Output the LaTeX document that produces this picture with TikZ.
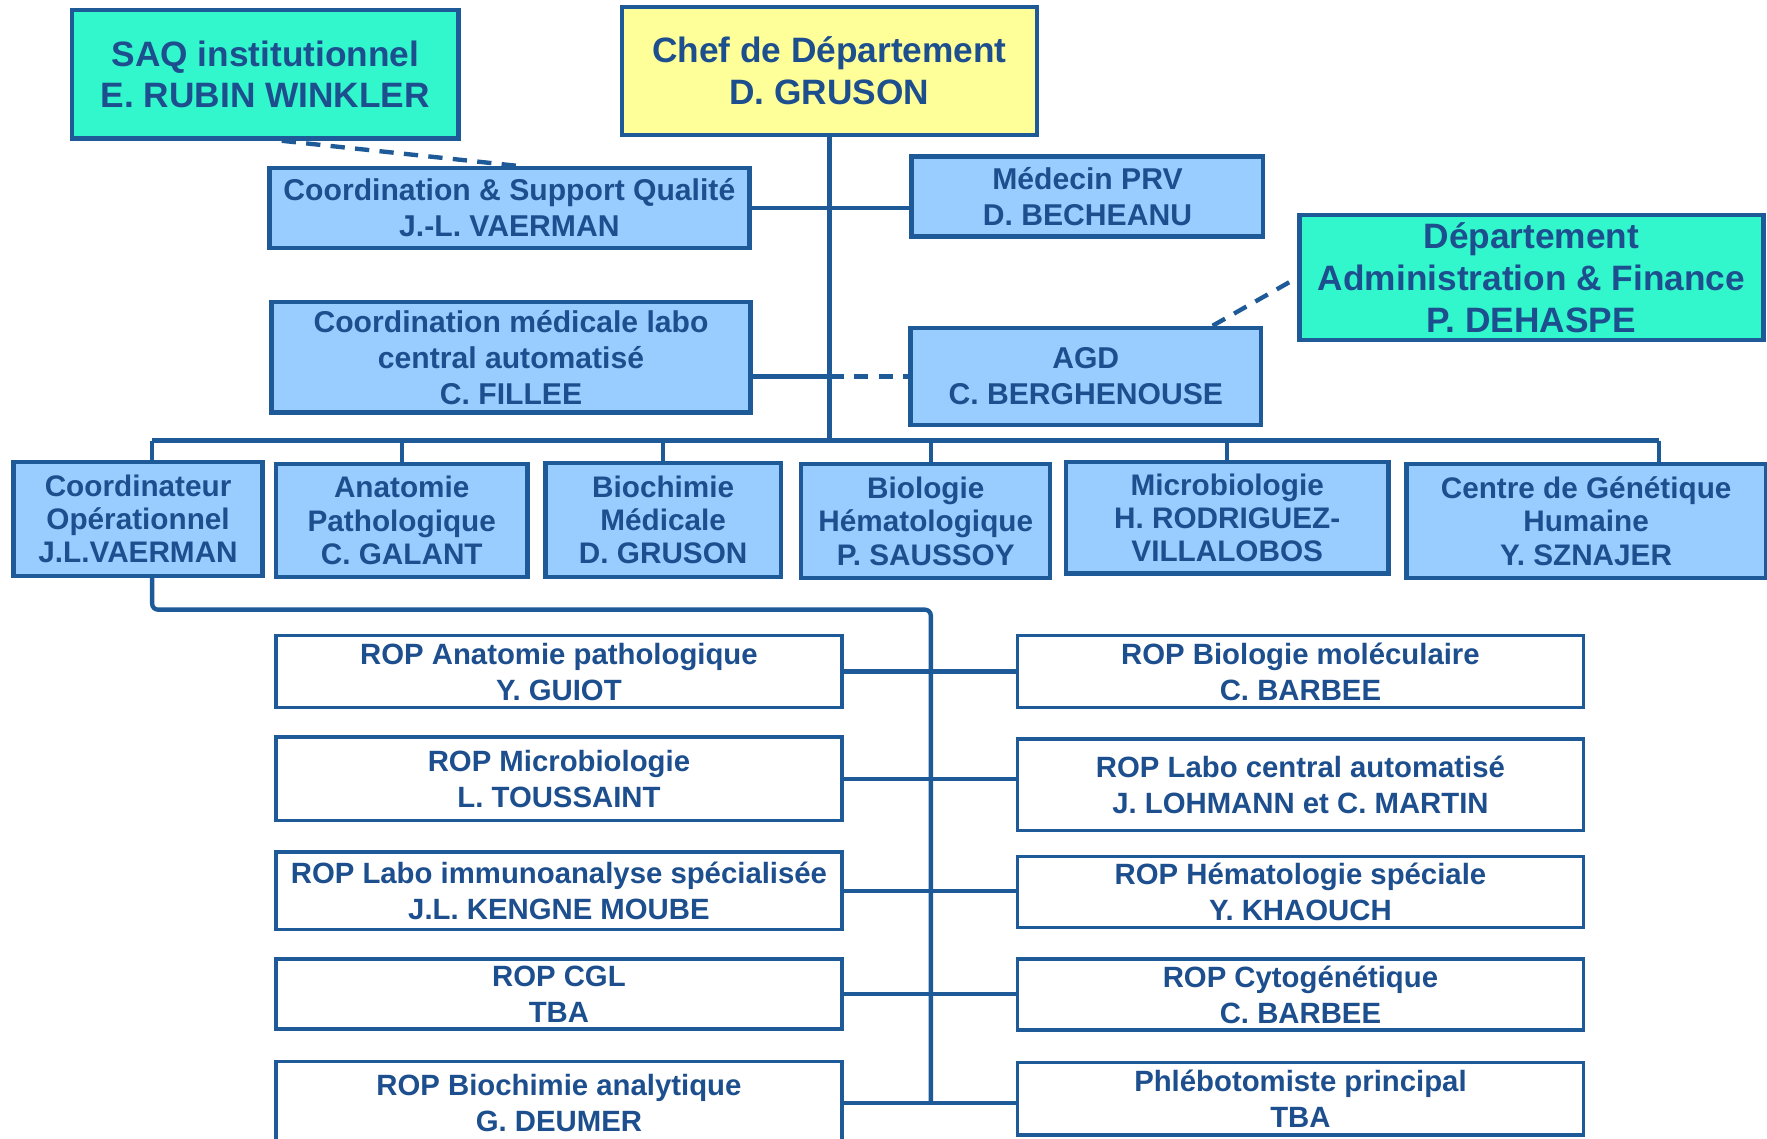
\documentclass[tikz,border=0pt]{standalone}
\usepackage{fontspec}
\setmainfont{Liberation Sans}
\usetikzlibrary{calc}

\definecolor{lineblue}{HTML}{1E5A98}
\definecolor{txtblue}{HTML}{1D4F8E}
\definecolor{boxblue}{HTML}{99CCFF}
\definecolor{boxcyan}{HTML}{33F7CC}
\definecolor{boxyellow}{HTML}{FFFF99}

% one box: name, x1, y1, x2, y2, style, text
\newcommand\orgbox[7]{%
  \node[#6, minimum width={(#4-#2)*0.01cm}, minimum height={(#5-#3)*0.01cm}]
    (#1) at ({(#2+#4)/2},{(#3+#5)/2}) {#7};}

\tikzset{
  base/.style={draw=lineblue, line width=1.1pt, inner sep=0pt, align=center,
    text=txtblue},
  headbox/.style={base, font=\fontsize{8.9}{10.5}\selectfont\bfseries},
  midbox/.style={base, fill=boxblue, font=\fontsize{7.6}{9.1}\selectfont\bfseries},
  unitbox/.style={base, fill=boxblue, font=\fontsize{7.5}{8.4}\selectfont\bfseries},
  ropbox/.style={base, fill=white, line width=0.9pt,
    font=\fontsize{7.4}{9.1}\selectfont\bfseries},
  link/.style={draw=lineblue, line width=1.1pt},
  dlink/.style={link, dash pattern=on 3.6pt off 2.6pt},
}

\begin{document}
\begin{tikzpicture}[x=0.01cm, y=-0.01cm]
\useasboundingbox (0,0) rectangle (1568,1010);
\clip (0,0) rectangle (1568,1010);
\fill[white] (0,0) rectangle (1568,1010);

% top level
\orgbox{chef}{552}{6}{920}{120}{headbox, fill=boxyellow}{Chef de Département\\D. GRUSON}
\orgbox{saq}{64}{9}{407}{123}{headbox, fill=boxcyan}{SAQ institutionnel\\E. RUBIN WINKLER}
\orgbox{dept}{1153}{191}{1565}{302}{headbox, fill=boxcyan}{Département\\Administration \& Finance\\P. DEHASPE}

% staff functions
\orgbox{coordsq}{239}{149}{665}{220}{midbox}{Coordination \& Support Qualité\\J.-L. VAERMAN}
\orgbox{medecin}{809}{139}{1121}{210}{midbox}{Médecin PRV\\D. BECHEANU}
\orgbox{cml}{241}{268}{666}{366}{midbox}{Coordination médicale labo\\central automatisé\\C. FILLEE}
\orgbox{agd}{808}{291}{1119}{377}{midbox}{AGD\\C. BERGHENOUSE}

% units
\orgbox{coordop}{12}{410}{233}{511}{unitbox}{Coordinateur\\Opérationnel\\J.L.VAERMAN}
\orgbox{anat}{245}{412}{468}{512}{unitbox}{Anatomie\\Pathologique\\C. GALANT}
\orgbox{bioch}{484}{411}{693}{512}{unitbox}{Biochimie\\Médicale\\D. GRUSON}
\orgbox{bioh}{711}{412}{932}{513}{unitbox}{Biologie\\Hématologique\\P. SAUSSOY}
\orgbox{micro}{946}{410}{1232}{509}{unitbox}{Microbiologie\\H. RODRIGUEZ-\\VILLALOBOS}
\orgbox{centre}{1248}{412}{1567}{513}{unitbox}{Centre de Génétique\\Humaine\\Y. SZNAJER}

% operational managers, left column
\orgbox{l1}{245}{564}{747}{628}{ropbox}{ROP Anatomie pathologique\\Y. GUIOT}
\orgbox{l2}{245}{654}{747}{728}{ropbox}{ROP Microbiologie\\L. TOUSSAINT}
\orgbox{l3}{245}{756}{747}{825}{ropbox}{ROP Labo immunoanalyse spécialisée\\J.L. KENGNE MOUBE}
\orgbox{l4}{245}{851}{747}{913}{ropbox}{ROP CGL\\TBA}
\orgbox{l5}{245}{942}{747}{1016}{ropbox}{ROP Biochimie analytique\\G. DEUMER}

% operational managers, right column
\orgbox{r1}{903}{564}{1405}{628}{ropbox}{ROP Biologie moléculaire\\C. BARBEE}
\orgbox{r2}{903}{656}{1405}{737}{ropbox}{ROP Labo central automatisé\\J. LOHMANN et C. MARTIN}
\orgbox{r3}{903}{760}{1405}{823}{ropbox}{ROP Hématologie spéciale\\Y. KHAOUCH}
\orgbox{r4}{903}{851}{1405}{914}{ropbox}{ROP Cytogénétique\\C. BARBEE}
\orgbox{r5}{903}{943}{1405}{1007}{ropbox}{Phlébotomiste principal\\TBA}

% bus and trunk points
\coordinate (busL) at (135,391);
\coordinate (busM) at (736,391);
\coordinate (busR) at (1472,391);
\coordinate (ropTop) at (826,541);

% main trunk and unit bus
\draw[link] (chef.south) -- (busM);
\draw[link] (busL) -- (busR);
\draw[link] (busL) -- (busL |- coordop.north);
\draw[link] (anat.north |- busL) -- (anat.north);
\draw[link] (bioch.north |- busL) -- (bioch.north);
\draw[link] ([xshift=0.045cm]bioh.north |- busL) -- ([xshift=0.045cm]bioh.north);
\draw[link] (micro.north |- busL) -- (micro.north);
\draw[link] (busR) -- (busR |- centre.north);

% staff links
\draw[link] (coordsq.east) -- (coordsq.east -| medecin.west);
\draw[link] (cml.east |- agd.west) -- (chef.south |- agd.west);
\draw[dlink] (chef.south |- agd.west) -- (agd.west);
\draw[dlink] ([xshift=0.145cm]saq.south) -- ([xshift=0.06cm]coordsq.north);
\draw[dlink] ([xshift=1.125cm]agd.north) -- (dept.west);

% operational managers trunk
\draw[link, rounded corners=1.5pt] (busL |- coordop.south) -- (busL |- ropTop) -- (ropTop) -- (ropTop |- l5.east);
\foreach \i in {1,...,5}{
  \draw[link] (l\i.east) -- (l\i.east -| r\i.west);
}
\end{tikzpicture}
\end{document}
